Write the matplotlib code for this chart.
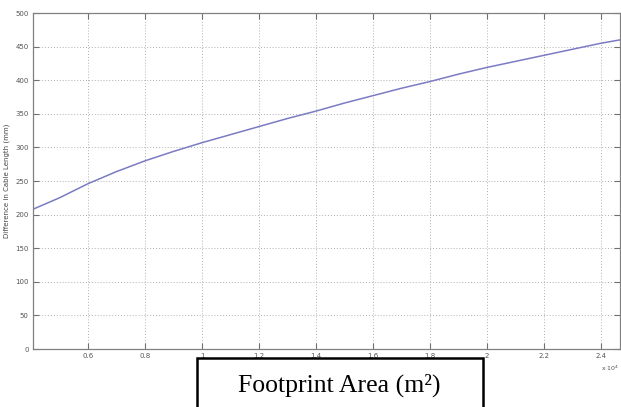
import matplotlib
matplotlib.use("Agg")
import matplotlib.pyplot as plt
from matplotlib.ticker import FuncFormatter, MultipleLocator
from matplotlib.patches import Rectangle

# Data (footprint area in m^2, difference in cable length in mm)
area = [4070, 5000, 6000, 7000, 8000, 9000, 10000, 11000, 12000, 13000, 14000,
        15000, 16000, 17000, 18000, 19000, 20000, 21000, 22000, 23000, 24000, 24670]
diff_len = [208, 225, 246, 264, 280, 294, 307, 319, 331, 343, 354,
            366, 377, 388, 398, 409, 419, 428, 437, 446, 455, 460]

xlabel_text = "Footprint Area (m²)"
ylabel_text = "Difference in Cable Length (mm)"

fig = plt.figure(figsize=(6.21, 4.07), dpi=100)
ax = fig.add_axes([33/621, 58/407, 587/621, 336/407])

ax.plot(area, diff_len, color="#7b7bc4", lw=1.1)
ax.set_xlim(4070, 24670)
ax.set_ylim(0, 500)
ax.xaxis.set_major_locator(MultipleLocator(2000))
ax.yaxis.set_major_locator(MultipleLocator(50))
ax.xaxis.set_major_formatter(FuncFormatter(lambda v, p: f"{v/1e4:g}"))

ax.grid(True, linestyle=(0, (1, 2)), color="#b0b0b0", lw=0.7)
for s in ax.spines.values():
    s.set_color("#808080")
    s.set_linewidth(0.9)
ax.tick_params(direction="in", length=4, width=0.8, color="#707070",
               labelsize=5, labelcolor="#555555", top=True, right=True, pad=3)

ax.set_ylabel(ylabel_text, fontsize=5, color="#444444", labelpad=4)
fig.text(619/621, 1 - 368/407, "x 10$^4$", fontsize=4.5, color="#555555",
         ha="right", va="center")

# boxed x-axis label
fig.patches.append(Rectangle((197/621, -0.05), (483-197)/621, (407-358)/407 + 0.05,
                             transform=fig.transFigure, facecolor="white",
                             edgecolor="black", lw=1.8, zorder=5))
fig.text(339/621, 1 - 385/407, xlabel_text, fontsize=18.5, family="Liberation Serif",
         ha="center", va="center", zorder=6)

fig.savefig("out.png", dpi=100)
